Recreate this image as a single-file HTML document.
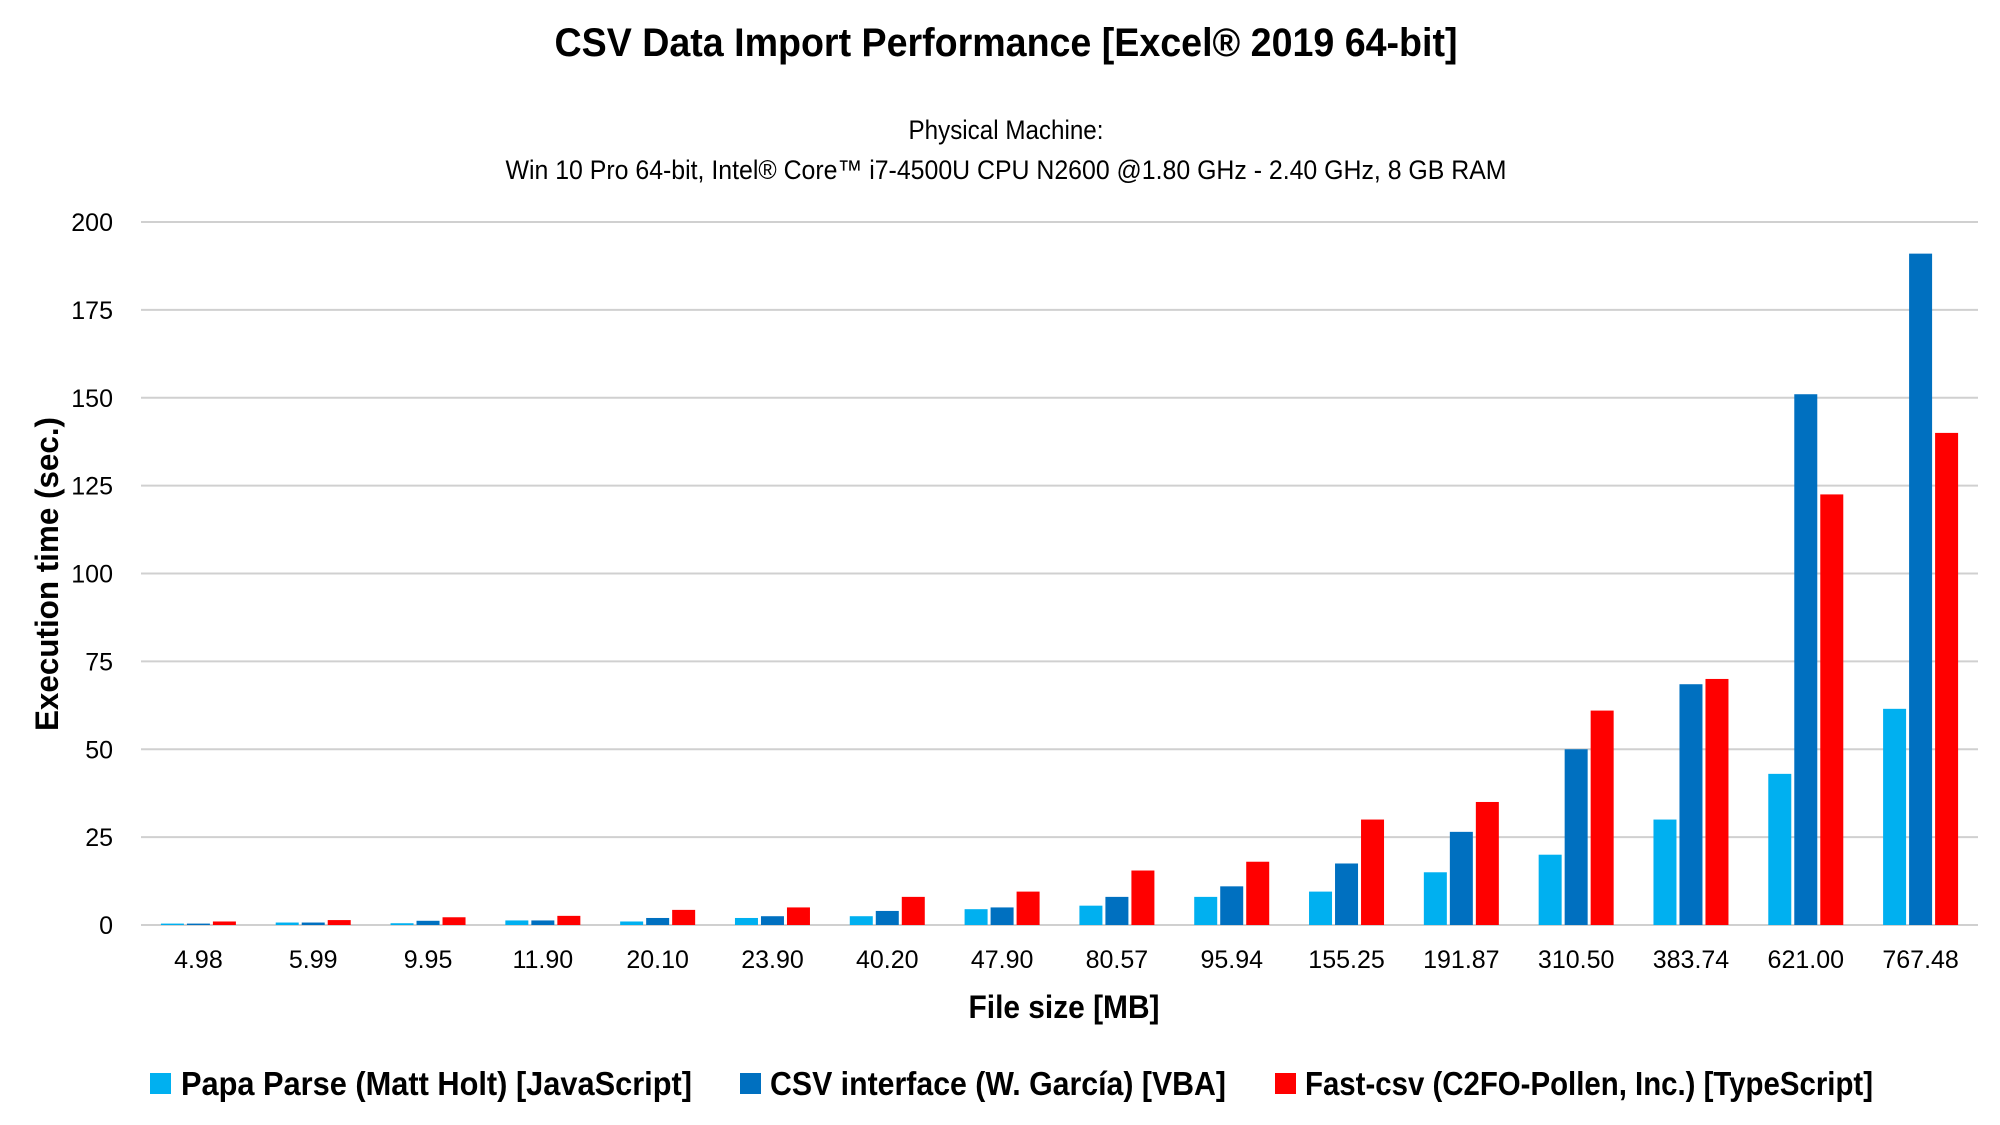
<!DOCTYPE html>
<html><head><meta charset="utf-8"><style>
html,body{margin:0;padding:0;background:#fff;}
svg{display:block;font-family:"Liberation Sans Narrow","Liberation Sans",sans-serif;}
</style></head><body>
<svg id="chart" width="2000" height="1125" viewBox="0 0 2000 1125">
<text x="1006" y="56" text-anchor="middle" font-size="40" font-weight="bold" textLength="903" lengthAdjust="spacingAndGlyphs">CSV Data Import Performance [Excel® 2019 64-bit]</text>
<text x="1006" y="139" text-anchor="middle" font-size="27" textLength="195" lengthAdjust="spacingAndGlyphs">Physical Machine:</text>
<text x="1006" y="179" text-anchor="middle" font-size="27" textLength="1001" lengthAdjust="spacingAndGlyphs">Win 10 Pro 64-bit, Intel® Core™ i7-4500U CPU N2600 @1.80 GHz - 2.40 GHz, 8 GB RAM</text>
<g id="grid"></g><g id="bars"></g><g id="xlabels"></g>
<text transform="translate(58,574) rotate(-90)" text-anchor="middle" font-size="32" font-weight="bold" textLength="314" lengthAdjust="spacingAndGlyphs">Execution time (sec.)</text>
<text x="1064" y="1018" text-anchor="middle" font-size="32" font-weight="bold" textLength="191" lengthAdjust="spacingAndGlyphs">File size [MB]</text>
<g>
<rect x="150" y="1073" width="21" height="21" fill="#00B0F0"/>
<text x="181" y="1095" font-size="33" font-weight="bold" textLength="511" lengthAdjust="spacingAndGlyphs">Papa Parse (Matt Holt) [JavaScript]</text>
<rect x="740" y="1073" width="21" height="21" fill="#0070C0"/>
<text x="770" y="1095" font-size="33" font-weight="bold" textLength="456" lengthAdjust="spacingAndGlyphs">CSV interface (W. García) [VBA]</text>
<rect x="1275" y="1073" width="21" height="21" fill="#FF0000"/>
<text x="1305" y="1095" font-size="33" font-weight="bold" textLength="568" lengthAdjust="spacingAndGlyphs">Fast-csv (C2FO-Pollen, Inc.) [TypeScript]</text>
</g>
</svg>
<script>
const categories = ["4.98","5.99","9.95","11.90","20.10","23.90","40.20","47.90","80.57","95.94","155.25","191.87","310.50","383.74","621.00","767.48"];
const papaParse = [0.4,0.7,0.5,1.3,1.0,2.0,2.5,4.5,5.5,8,9.5,15,20,30,43,61.5];
const csvInterface = [0.4,0.7,1.2,1.3,2.0,2.5,4,5,8,11,17.5,26.5,50,68.5,151,191];
const fastCsv = [1.0,1.4,2.2,2.6,4.3,5,8,9.5,15.5,18,30,35,61,70,122.5,140];
const yTicks = [0,25,50,75,100,125,150,175,200];

const NS = "http://www.w3.org/2000/svg";
const plotLeft = 141, plotRight = 1978, plotTop = 222, plotBottom = 925, yMax = 200;
const yScale = v => plotBottom - v / yMax * (plotBottom - plotTop);
const band = (plotRight - plotLeft) / categories.length;
const xCenter = i => plotLeft + band * (i + 0.5);
function mk(tag, attrs, parent){ const e = document.createElementNS(NS, tag); for (const k in attrs) e.setAttribute(k, attrs[k]); parent.appendChild(e); return e; }
const grid = document.getElementById('grid'), bars = document.getElementById('bars'), xl = document.getElementById('xlabels');
yTicks.forEach(t => {
  const l = mk('line', {x1:plotLeft, x2:plotRight, y1:yScale(t), y2:yScale(t), stroke:'#d0d0d0', 'stroke-width':2}, grid);
  
  
  const tx = mk('text', {x:113, y:yScale(t)+9, 'text-anchor':'end', 'font-size':25}, grid);
  tx.textContent = t;
  
  
});
const series = [[papaParse,'#00B0F0','papa'],[csvInterface,'#0070C0','csv'],[fastCsv,'#FF0000','fastcsv']];
const bw = 23, step = 26;
categories.forEach((c, i) => {
  series.forEach((s, j) => {
    const v = s[0][i];
    const r = mk('rect', {x: xCenter(i) + (j-1)*step - bw/2, y: yScale(v), width: bw, height: plotBottom - yScale(v), fill: s[1]}, bars);
    
    
  });
  const t = mk('text', {x: xCenter(i), y: 968, 'text-anchor':'middle', 'font-size':25}, xl);
  t.textContent = c;
  
  
});
</script>
</body></html>
